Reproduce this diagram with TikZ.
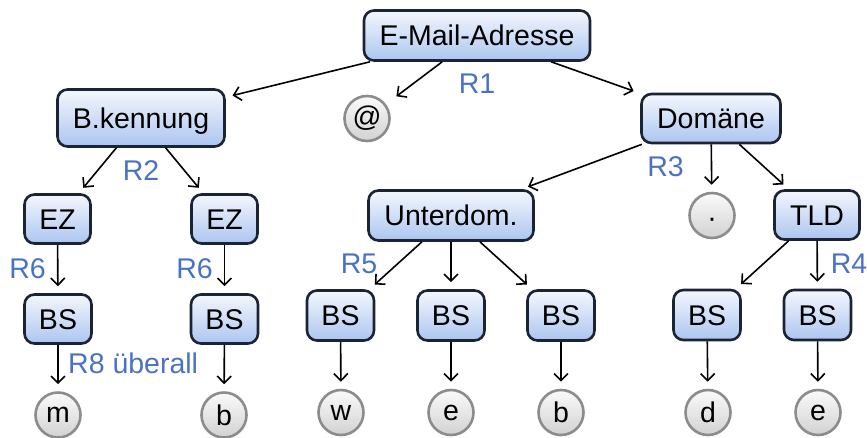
\documentclass[tikz,border=0pt]{standalone}
\usepackage{fontspec}
\setmainfont{Liberation Sans}
\usetikzlibrary{arrows.meta}

\definecolor{boxline}{RGB}{27,36,53}
\definecolor{boxtop}{RGB}{244,247,253}
\definecolor{boxbot}{RGB}{172,197,240}
\definecolor{termtop}{RGB}{250,250,250}
\definecolor{termbot}{RGB}{210,210,210}
\definecolor{termline}{RGB}{140,140,140}
\definecolor{rulecol}{RGB}{74,114,196}

\begin{document}
\begin{tikzpicture}[x=1pt,y=-1pt,
  font=\fontsize{28.5}{34}\selectfont,
  symbol/.style={draw=boxline, line width=2.6pt, rounded corners=10pt,
    top color=boxtop, bottom color=boxbot, inner sep=0pt,
    text height=20.4pt, text depth=0pt},
  terminal/.style={circle, draw=termline, line width=2.6pt,
    top color=termtop, bottom color=termbot, inner sep=0pt,
    minimum size=45pt},
  edge/.style={-{Straight Barb[length=7pt,width=14pt]}, line width=1.6pt,
    shorten >=7pt},
  rulelab/.style={text=rulecol, inner sep=0pt, anchor=base}]

\useasboundingbox (0,0) rectangle (867,437);

% nonterminal symbols
\node[symbol, minimum width=226pt, minimum height=50pt] (email) at (477,35.5) {E-Mail-Adresse};
\node[symbol, minimum width=167pt, minimum height=57pt] (bk) at (141,118) {B.kennung};
\node[symbol, minimum width=139pt, minimum height=49pt] (dom) at (711,118.5) {Domäne};
\node[symbol, minimum width=66pt, minimum height=49pt] (ez1) at (57.5,219) {EZ};
\node[symbol, minimum width=66pt, minimum height=49pt] (ez2) at (224.5,219) {EZ};
\node[symbol, minimum width=165pt, minimum height=50pt] (ud) at (451,215.5) {Unterdom.};
\node[symbol, minimum width=85pt, minimum height=49pt] (tld) at (817,215) {TLD};
\node[symbol, minimum width=67pt, minimum height=49pt] (bs1) at (58,319) {BS};
\node[symbol, minimum width=67pt, minimum height=49pt] (bs2) at (224.5,319) {BS};
\node[symbol, minimum width=67pt, minimum height=50pt] (bs3) at (340.5,315.5) {BS};
\node[symbol, minimum width=67pt, minimum height=50pt] (bs4) at (451,315.5) {BS};
\node[symbol, minimum width=67pt, minimum height=50pt] (bs5) at (561,315.5) {BS};
\node[symbol, minimum width=67pt, minimum height=50pt] (bs6) at (707,315) {BS};
\node[symbol, minimum width=67pt, minimum height=50pt] (bs7) at (817.5,315) {BS};

% terminal symbols
\node[terminal] (at) at (367,118.5) {@};
\node[terminal, text height=23pt, text depth=0pt] (dot) at (712,215.5) {·};
\node[terminal] (tm) at (58,415) {m};
\node[terminal] (tb1) at (224,415) {b};
\node[terminal] (tw) at (341,412.5) {w};
\node[terminal] (te1) at (451,412.5) {e};
\node[terminal] (tb2) at (561,412.5) {b};
\node[terminal] (td) at (708,412.5) {d};
\node[terminal] (te2) at (818,412.5) {e};

% derivations
\draw[edge] (email) -- (bk);
\draw[edge, shorten >=13pt] (email) -- (at);
\draw[edge] (email) -- (dom);
\draw[edge] (bk) -- (ez1);
\draw[edge] (bk) -- (ez2);
\draw[edge] (ez1) -- (bs1);
\draw[edge] (ez2) -- (bs2);
\draw[edge] (bs1) -- (tm);
\draw[edge] (bs2) -- (tb1);
\draw[edge] (dom) -- (ud);
\draw[edge] (dom) -- (dot);
\draw[edge] (dom) -- (tld);
\draw[edge] (ud) -- (bs3);
\draw[edge] (ud) -- (bs4);
\draw[edge] (ud) -- (bs5);
\draw[edge] (bs3) -- (tw);
\draw[edge] (bs4) -- (te1);
\draw[edge] (bs5) -- (tb2);
\draw[edge] (tld) -- (bs6);
\draw[edge] (tld) -- (bs7);
\draw[edge] (bs6) -- (td);
\draw[edge] (bs7) -- (te2);

% rule labels
\node[rulelab] (r1) at (477,93) {R1};
\node[rulelab] (r2) at (141,180) {R2};
\node[rulelab] (r3) at (665.5,176) {R3};
\node[rulelab] (r4) at (849,273) {R4};
\node[rulelab] (r5) at (359,273) {R5};
\node[rulelab] (r6a) at (27.5,278) {R6};
\node[rulelab] (r6b) at (194.5,278) {R6};
\node[rulelab, anchor=base west] (r8) at (68,373) {R8 überall};
\end{tikzpicture}
\end{document}
